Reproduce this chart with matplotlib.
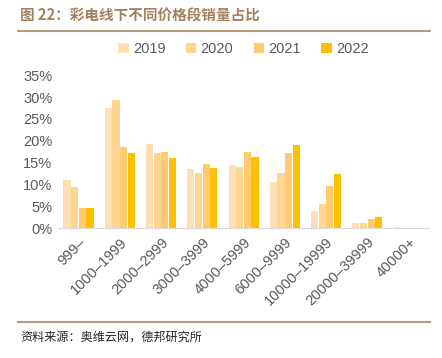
import numpy as np
import matplotlib.pyplot as plt
from matplotlib.lines import Line2D

plt.rcParams['font.family'] = ['Liberation Sans', 'Noto Sans CJK SC', 'DejaVu Sans']

# price segments and share of offline TV sales (%)
segments = ['999–', '1000–1999', '2000–2999', '3000–3999', '4000–5999',
            '6000–9999', '10000–19999', '20000–39999', '40000+']
years = ['2019', '2020', '2021', '2022']
share_2019 = [11.1, 27.4, 19.3, 13.5, 14.4, 10.5, 4.0, 1.1, 0.2]
share_2020 = [9.4, 29.4, 17.1, 12.5, 14.0, 12.5, 5.4, 1.2, 0.1]
share_2021 = [4.5, 18.5, 17.4, 14.7, 17.4, 17.2, 9.6, 2.0, 0.1]
share_2022 = [4.5, 17.2, 16.0, 13.7, 16.2, 18.9, 12.4, 2.6, 0.1]
colors = ['#FFE0B6', '#FFD592', '#FFCA70', '#FFC000']

fig = plt.figure(figsize=(4.42, 3.58), dpi=100)
ax = fig.add_axes([0.131, 0.363, 0.84, 0.427])

x = np.arange(len(segments))
w = 0.185
for i, (vals, yr) in enumerate(zip([share_2019, share_2020, share_2021, share_2022], years)):
    ax.bar(x + (i - 1.5) * w, np.array(vals) / 100, width=w * 0.94, color=colors[i], label=yr)

ax.set_xlim(-0.5, len(segments) - 0.5)
ax.set_ylim(0, 0.35)
ax.set_yticks(np.arange(0, 0.36, 0.05))
ax.set_yticklabels([f'{int(v)}%' for v in np.arange(0, 36, 5)], color='#595959', fontsize=10.5)
ax.set_xticks(x)
ax.set_xticklabels(segments, rotation=45, ha='right', rotation_mode='anchor',
                   color='#595959', fontsize=10.5)
ax.tick_params(axis='both', length=0, pad=4)
ax.tick_params(axis='x', pad=5)
for s in ['top', 'right', 'left']:
    ax.spines[s].set_visible(False)
ax.spines['bottom'].set_color('#D9D9D9')

ax.legend(loc='lower center', bbox_to_anchor=(0.5, 1.04), ncol=4, frameon=False,
          handlelength=0.7, handleheight=0.7, handletextpad=0.3, columnspacing=1.4,
          fontsize=10.5, labelcolor='#595959')

# title and source
fig.text(0.045, 0.955, '图 22：彩电线下不同价格段销量占比', fontsize=10.5, fontweight='bold',
         color='#A5805E', family=['Noto Sans CJK SC', 'DejaVu Sans'], va='center')
fig.add_artist(Line2D([0.04, 0.973], [0.913, 0.913], color='#B89A7E', lw=1.5))
fig.add_artist(Line2D([0.04, 0.973], [0.101, 0.101], color='#B89A7E', lw=1.5))
fig.text(0.045, 0.058, '资料来源：奥维云网，德邦研究所', fontsize=8.7, color='#262626',
         family=['Noto Sans CJK SC', 'DejaVu Sans'], va='center')

fig.savefig('out.png', dpi=100)
